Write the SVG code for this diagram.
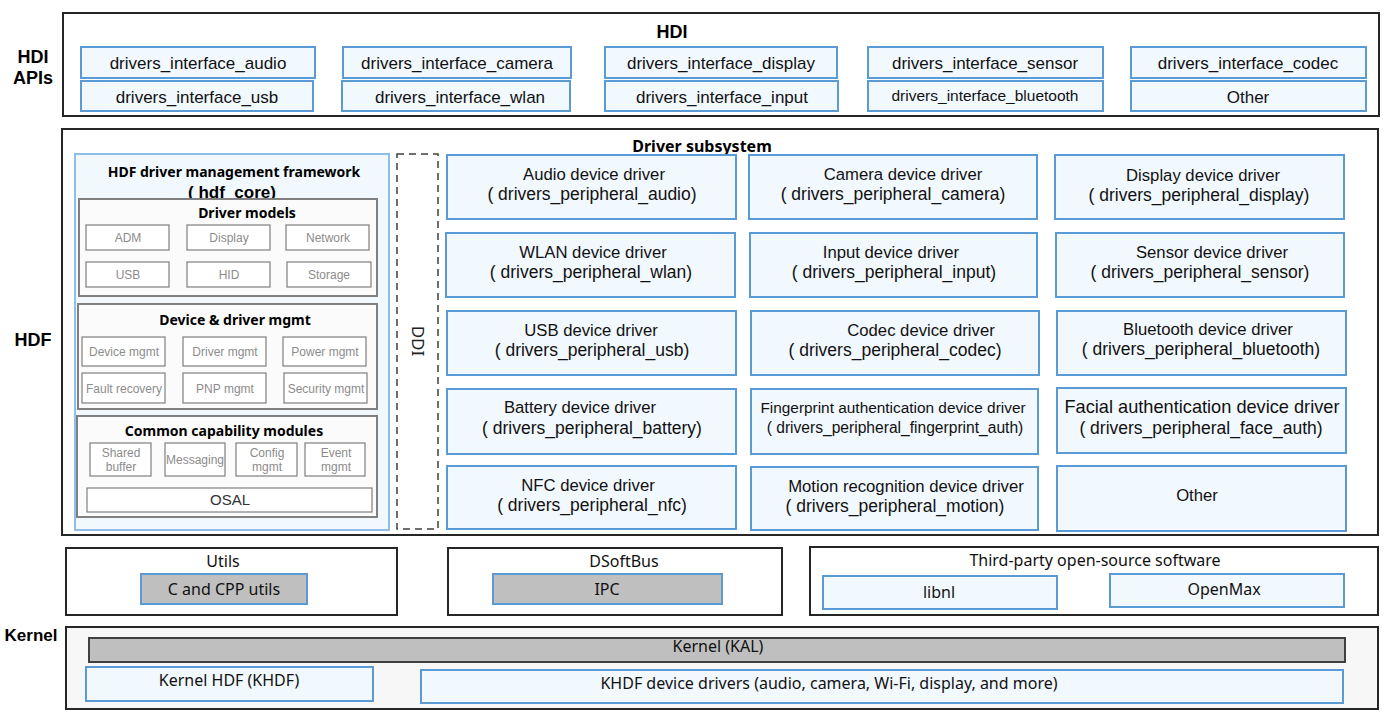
<svg xmlns="http://www.w3.org/2000/svg" width="1395" height="716" viewBox="0 0 1395 716">
<style>
.outer{fill:#fff;stroke:#262626;stroke-width:2}
.blue{fill:#f1f8fe;stroke:#5b9bd5;stroke-width:2}
.sec{fill:#fbfbfb;stroke:#808080;stroke-width:2}
.inner{fill:#fff;stroke:#7f7f7f;stroke-width:1.2}
.gray{fill:#bfbfbf;stroke:#5b9bd5;stroke-width:2}
.lab{font-family:"Liberation Sans",Arial,sans-serif;font-weight:bold;font-size:18px;fill:#000;text-anchor:middle}
.api{font-family:"Liberation Sans",Arial,sans-serif;font-size:17px;fill:#111;text-anchor:middle}
.drv{font-family:"Liberation Sans",Arial,sans-serif;font-size:16.7px;fill:#111;text-anchor:middle}
.l2{font-size:17.5px}
.bt{font-family:"Noto Sans",sans-serif;font-weight:bold;font-size:14px;fill:#000;text-anchor:middle}
.sm{font-family:"Liberation Sans",Arial,sans-serif;font-size:12px;fill:#8c8c8c;text-anchor:middle}
.bot{font-family:"Noto Sans",sans-serif;font-size:16px;fill:#111;text-anchor:middle}
</style>

<g id="labels">
<text class="lab" x="33" y="63">HDI</text>
<text class="lab" x="33" y="84">APIs</text>
<text class="lab" x="33" y="346">HDF</text>
<text class="lab" x="31" y="641" style="font-size:17px">Kernel</text>
</g>

<g id="hdi">
<rect class="outer" x="63" y="13" width="1316" height="103"/>
<text class="lab" x="672" y="38">HDI</text>
<g id="hdi-audio"><rect class="blue" x="81" y="47" width="234" height="31"/><text class="api" x="198" y="69">drivers_interface_audio</text></g>
<g id="hdi-camera"><rect class="blue" x="343" y="47" width="228" height="31"/><text class="api" x="457" y="69">drivers_interface_camera</text></g>
<g id="hdi-display"><rect class="blue" x="605" y="47" width="232" height="31"/><text class="api" x="721" y="69">drivers_interface_display</text></g>
<g id="hdi-sensor"><rect class="blue" x="868" y="47" width="235" height="31"/><text class="api" x="985" y="69">drivers_interface_sensor</text></g>
<g id="hdi-codec"><rect class="blue" x="1131" y="47" width="235" height="31"/><text class="api" x="1248" y="69">drivers_interface_codec</text></g>
<g id="hdi-usb"><rect class="blue" x="81" y="81" width="232" height="30"/><text class="api" x="197" y="103">drivers_interface_usb</text></g>
<g id="hdi-wlan"><rect class="blue" x="342" y="81" width="228" height="30"/><text class="api" x="460" y="103">drivers_interface_wlan</text></g>
<g id="hdi-input"><rect class="blue" x="605" y="81" width="233" height="30"/><text class="api" x="722" y="103">drivers_interface_input</text></g>
<g id="hdi-bluetooth"><rect class="blue" x="868" y="81" width="235" height="30"/><text class="api" x="985" y="101" style="font-size:15.5px">drivers_interface_bluetooth</text></g>
<g id="hdi-other"><rect class="blue" x="1131" y="81" width="235" height="30"/><text class="api" x="1248" y="103">Other</text></g>
</g>

<g id="hdf">
<rect class="outer" x="62" y="129" width="1316" height="406"/>
<text class="lab" x="702" y="152" style="font-family:'Noto Sans',sans-serif;font-size:16px">Driver subsystem</text>

<g id="hdf-core">
<rect x="75" y="154" width="314" height="376" fill="#f2f9fe" stroke="#8fbfe8" stroke-width="2"/>
<text class="bt" x="234" y="177">HDF driver management framework</text>
<text x="232" y="198" font-family="'Liberation Sans',Arial,sans-serif" font-weight="bold" font-size="17" fill="#000" text-anchor="middle">( hdf_core)</text>

<g id="driver-models">
<rect class="sec" x="79" y="199" width="298" height="97"/>
<text class="bt" x="247" y="218">Driver models</text>
<rect class="inner" x="86" y="225" width="83" height="25"/><text class="sm" x="128" y="242">ADM</text>
<rect class="inner" x="187" y="225" width="83" height="25"/><text class="sm" x="229" y="242">Display</text>
<rect class="inner" x="286" y="225" width="83" height="25"/><text class="sm" x="328" y="242">Network</text>
<rect class="inner" x="86" y="262" width="83" height="25"/><text class="sm" x="128" y="279">USB</text>
<rect class="inner" x="187" y="262" width="83" height="25"/><text class="sm" x="229" y="279">HID</text>
<rect class="inner" x="287" y="262" width="84" height="25"/><text class="sm" x="329" y="279">Storage</text>
</g>

<g id="device-driver-mgmt">
<rect class="sec" x="78" y="304" width="299" height="105"/>
<text class="bt" x="235" y="325">Device &amp; driver mgmt</text>
<rect class="inner" x="82" y="337" width="83" height="29"/><text class="sm" x="124" y="356">Device mgmt</text>
<rect class="inner" x="183" y="337" width="83" height="29"/><text class="sm" x="225" y="356">Driver mgmt</text>
<rect class="inner" x="283" y="337" width="83" height="29"/><text class="sm" x="325" y="356">Power mgmt</text>
<rect class="inner" x="82" y="373" width="83" height="30"/><text class="sm" x="124" y="393">Fault recovery</text>
<rect class="inner" x="183" y="373" width="83" height="30"/><text class="sm" x="225" y="393">PNP mgmt</text>
<rect class="inner" x="284" y="373" width="83" height="30"/><text class="sm" x="326" y="393">Security mgmt</text>
</g>

<g id="common-capability">
<rect class="sec" x="77" y="416" width="300" height="101"/>
<text class="bt" x="224" y="436">Common capability modules</text>
<rect class="inner" x="90" y="443" width="61" height="33"/><text class="sm" x="121" y="457">Shared<tspan x="121" dy="14">buffer</tspan></text>
<rect class="inner" x="165" y="443" width="60" height="33"/><text class="sm" x="195" y="464">Messaging</text>
<rect class="inner" x="236" y="443" width="61" height="33"/><text class="sm" x="267" y="457">Config<tspan x="267" dy="14">mgmt</tspan></text>
<rect class="inner" x="305" y="443" width="60" height="33"/><text class="sm" x="336" y="457">Event<tspan x="336" dy="14">mgmt</tspan></text>
<rect class="inner" x="87" y="488" width="285" height="24" stroke-width="2"/><text class="sm" x="230" y="505" style="font-size:15px;fill:#333">OSAL</text>
</g>
</g>

<g id="ddi">
<rect x="397" y="154" width="41" height="375" fill="#fff" stroke="#404040" stroke-width="1.5" stroke-dasharray="7,5"/>
<text x="418" y="341" transform="rotate(90 418 341)" dy="6" font-family="'Noto Sans',sans-serif" font-size="17" fill="#222" text-anchor="middle">DDI</text>
</g>

<g id="drv-audio"><rect class="blue" x="447" y="155" width="289" height="64"/><text class="drv" x="594" y="180">Audio device driver<tspan class="l2" x="592" dy="20">( drivers_peripheral_audio)</tspan></text></g>
<g id="drv-camera"><rect class="blue" x="749" y="155" width="288" height="64"/><text class="drv" x="903" y="180">Camera device driver<tspan class="l2" x="893" dy="20">( drivers_peripheral_camera)</tspan></text></g>
<g id="drv-display"><rect class="blue" x="1055" y="155" width="289" height="64"/><text class="drv" x="1203" y="181">Display device driver<tspan class="l2" x="1199" dy="20">( drivers_peripheral_display)</tspan></text></g>

<g id="drv-wlan"><rect class="blue" x="446" y="233" width="289" height="64"/><text class="drv" x="593" y="258">WLAN device driver<tspan class="l2" x="591" dy="20">( drivers_peripheral_wlan)</tspan></text></g>
<g id="drv-input"><rect class="blue" x="750" y="233" width="287" height="64"/><text class="drv" x="891" y="258">Input device driver<tspan class="l2" x="894" dy="20">( drivers_peripheral_input)</tspan></text></g>
<g id="drv-sensor"><rect class="blue" x="1056" y="233" width="288" height="64"/><text class="drv" x="1212" y="258">Sensor device driver<tspan class="l2" x="1200" dy="20">( drivers_peripheral_sensor)</tspan></text></g>

<g id="drv-usb"><rect class="blue" x="447" y="311" width="289" height="64"/><text class="drv" x="591" y="336">USB device driver<tspan class="l2" x="592" dy="20">( drivers_peripheral_usb)</tspan></text></g>
<g id="drv-codec"><rect class="blue" x="751" y="311" width="288" height="64"/><text class="drv" x="921" y="336">Codec device driver<tspan class="l2" x="895" dy="20">( drivers_peripheral_codec)</tspan></text></g>
<g id="drv-bluetooth"><rect class="blue" x="1057" y="311" width="289" height="64"/><text class="drv" x="1208" y="335">Bluetooth device driver<tspan class="l2" x="1201" dy="20">( drivers_peripheral_bluetooth)</tspan></text></g>

<g id="drv-battery"><rect class="blue" x="447" y="389" width="289" height="65"/><text class="drv" x="580" y="413">Battery device driver<tspan class="l2" x="592" dy="21">( drivers_peripheral_battery)</tspan></text></g>
<g id="drv-fingerprint"><rect class="blue" x="751" y="389" width="287" height="65"/><text class="drv" x="893" y="413" style="font-size:15.4px">Fingerprint authentication device driver<tspan x="895" dy="19.5" style="font-size:15.6px">( drivers_peripheral_fingerprint_auth)</tspan></text></g>
<g id="drv-face"><rect class="blue" x="1057" y="388" width="289" height="65"/><text class="drv" x="1202" y="412.5" style="font-size:18.2px">Facial authentication device driver<tspan x="1201" dy="21.5" style="font-size:17.5px">( drivers_peripheral_face_auth)</tspan></text></g>

<g id="drv-nfc"><rect class="blue" x="447" y="466" width="289" height="63"/><text class="drv" x="588" y="491">NFC device driver<tspan class="l2" x="592" dy="20">( drivers_peripheral_nfc)</tspan></text></g>
<g id="drv-motion"><rect class="blue" x="751" y="467" width="287" height="63"/><text class="drv" x="906" y="492">Motion recognition device driver<tspan class="l2" x="895" dy="20">( drivers_peripheral_motion)</tspan></text></g>
<g id="drv-other"><rect class="blue" x="1057" y="466" width="289" height="65"/><text class="drv" x="1197" y="501">Other</text></g>
</g>

<g id="utils">
<rect class="outer" x="66" y="548" width="331" height="67"/>
<text class="bot" x="223" y="567">Utils</text>
<rect class="gray" x="141" y="574" width="166" height="30"/><text class="bot" x="224" y="595">C and CPP utils</text>
</g>

<g id="dsoftbus">
<rect class="outer" x="448" y="548" width="334" height="67"/>
<text class="bot" x="624" y="567">DSoftBus</text>
<rect class="gray" x="493" y="574" width="229" height="30"/><text class="bot" x="607" y="595">IPC</text>
</g>

<g id="thirdparty">
<rect class="outer" x="810" y="547" width="568" height="68"/>
<text class="bot" x="1095" y="566">Third-party open-source software</text>
<rect class="blue" x="823" y="576" width="234" height="33"/><text class="bot" x="939" y="598">libnl</text>
<rect class="blue" x="1110" y="574" width="234" height="33"/><text class="bot" x="1224" y="595">OpenMax</text>
</g>

<g id="kernel">
<rect x="66" y="627" width="1312" height="82" fill="#f7f7f7" stroke="#262626" stroke-width="2"/>
<rect x="89" y="638" width="1256" height="24" fill="#bfbfbf" stroke="#404040" stroke-width="2"/>
<text class="bot" x="718" y="652">Kernel (KAL)</text>
<rect class="blue" x="86" y="667" width="287" height="34"/><text class="bot" x="229" y="686">Kernel HDF (KHDF)</text>
<rect class="blue" x="421" y="670" width="922" height="33"/><text class="bot" x="829" y="689">KHDF device drivers (audio, camera, Wi-Fi, display, and more)</text>
</g>

<g id="connectors"></g>
</svg>
